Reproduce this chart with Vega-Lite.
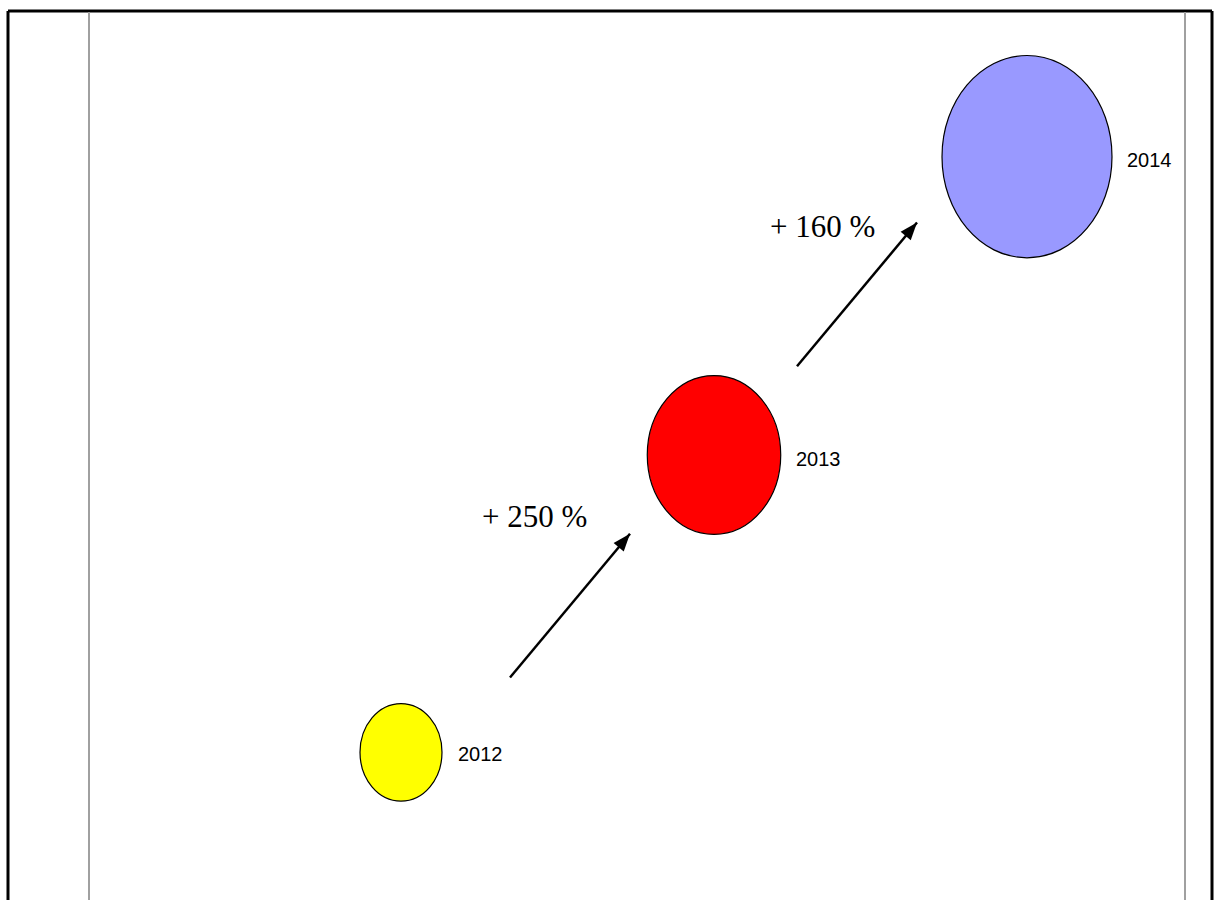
{
  "$schema": "https://vega.github.io/schema/vega-lite/v6.json",
  "width": 1216,
  "height": 902,
  "autosize": {"type": "fit", "contains": "padding"},
  "padding": 0,
  "background": "white",
  "config": {"view": {"stroke": null}},
  "datasets": {
    "frameBlack": [
      {"x": 8, "y": 11, "x2": 1212, "y2": 11},
      {"x": 8, "y": 11, "x2": 8, "y2": 902},
      {"x": 1212, "y": 11, "x2": 1212, "y2": 902}
    ],
    "frameGray": [
      {"x": 89, "y": 12, "x2": 89, "y2": 902},
      {"x": 1185, "y": 12, "x2": 1185, "y2": 902}
    ],
    "ellipses": [
      {"year": 2012, "x": 401, "y": 754},
      {"year": 2013, "x": 714, "y": 456},
      {"year": 2014, "x": 1027, "y": 157}
    ],
    "yearLabels": [
      {"label": "2012", "x": 458, "y": 763},
      {"label": "2013", "x": 796, "y": 467},
      {"label": "2014", "x": 1127, "y": 167}
    ],
    "pctLabels": [
      {"label": "+ 250 %", "x": 482, "y": 528},
      {"label": "+ 160 %", "x": 770, "y": 238}
    ],
    "arrows": [
      {"x0": 510, "y0": 679, "x": 630, "y": 535},
      {"x0": 797, "y0": 367, "x": 917, "y": 223}
    ]
  },
  "encoding": {
    "x": {"field": "x", "type": "quantitative", "scale": {"domain": [0, 1216], "nice": false, "zero": false}, "axis": null},
    "y": {"field": "y", "type": "quantitative", "scale": {"domain": [0, 902], "nice": false, "zero": false, "reverse": true}, "axis": null}
  },
  "layer": [
    {
      "data": {"name": "frameBlack"},
      "mark": {"type": "rule", "color": "#000000", "strokeWidth": 3},
      "encoding": {"x2": {"field": "x2"}, "y2": {"field": "y2"}}
    },
    {
      "data": {"name": "frameGray"},
      "mark": {"type": "rule", "color": "#a0a0a0", "strokeWidth": 2},
      "encoding": {"x2": {"field": "x2"}, "y2": {"field": "y2"}}
    },
    {
      "data": {"name": "ellipses"},
      "mark": {"type": "point", "shape": "M-1,0A1,1.19 0 1,0 1,0A1,1.19 0 1,0 -1,0Z", "filled": true, "opacity": 1, "stroke": "#000000", "strokeWidth": 1.2},
      "encoding": {
        "color": {"field": "year", "type": "nominal", "scale": {"domain": [2012, 2013, 2014], "range": ["#ffff00", "#ff0000", "#9999ff"]}, "legend": null},
        "size": {"field": "year", "type": "quantitative", "scale": {"domain": [2012, 2014], "range": [6724, 28900], "zero": false}, "legend": null}
      }
    },
    {
      "data": {"name": "arrows"},
      "mark": {"type": "rule", "color": "#000000", "strokeWidth": 2.5},
      "encoding": {
        "x": {"field": "x0", "type": "quantitative"},
        "y": {"field": "y0", "type": "quantitative"},
        "x2": {"field": "x"},
        "y2": {"field": "y"}
      }
    },
    {
      "data": {"name": "arrows"},
      "mark": {"type": "point", "shape": "M0,0L-0.6,1.6L0.6,1.6Z", "filled": true, "opacity": 1, "color": "#000000", "size": 484, "angle": 40}
    },
    {
      "data": {"name": "yearLabels"},
      "mark": {"type": "text", "font": "Liberation Sans", "fontSize": 20, "align": "left", "baseline": "alphabetic", "color": "#000000"},
      "encoding": {"text": {"field": "label"}}
    },
    {
      "data": {"name": "pctLabels"},
      "mark": {"type": "text", "font": "Liberation Serif", "fontSize": 31, "align": "left", "baseline": "alphabetic", "color": "#000000"},
      "encoding": {"text": {"field": "label"}}
    }
  ]
}
